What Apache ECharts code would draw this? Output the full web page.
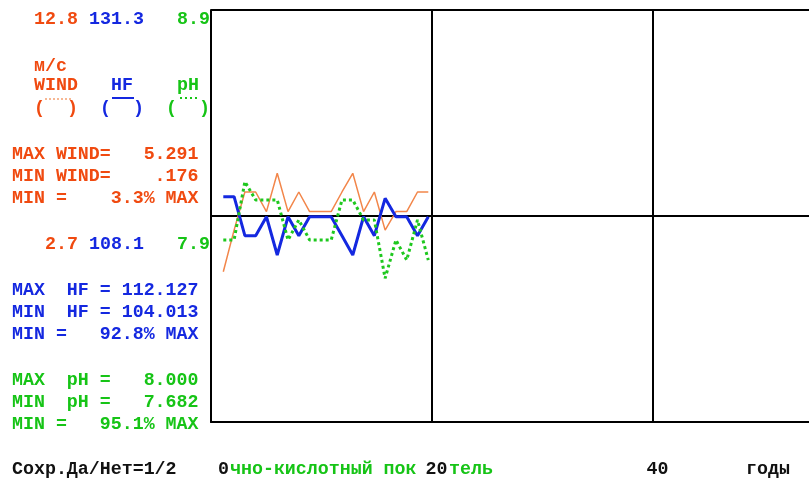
<!DOCTYPE html>
<html><head><meta charset="utf-8">
<script src="https://cdn.jsdelivr.net/npm/echarts/dist/echarts.min.js"></script>
<style>html,body{margin:0;padding:0;background:#fff}#c{width:809px;height:487px}</style>
</head><body><div id="c"></div>
<script>
// ---- data ----
const years = [1,2,3,4,5,6,7,8,9,10,11,12,13,14,15,16,17,18,19,20];
const wind = [0.176,2.34,4.32,4.32,3.30,5.291,3.30,4.32,3.30,3.30,3.30,4.32,5.291,3.30,4.32,2.34,3.30,3.30,4.32,4.32];
const hf = [112.127,112.127,106.70,106.70,109.34,104.013,109.34,106.70,109.34,109.34,109.34,106.70,104.013,109.34,106.70,111.9,109.34,109.34,106.70,109.34];
const ph = [7.808,7.808,8.000,7.940,7.940,7.940,7.808,7.874,7.808,7.808,7.808,7.940,7.940,7.874,7.874,7.682,7.808,7.742,7.874,7.742];
const xTicks = [0,20,40];
const topScale = ['12.8','131.3','8.9'];
const midScale = ['2.7','108.1','7.9'];
const windStats = ['5.291','.176','3.3'];
const hfStats = ['112.127','104.013','92.8'];
const phStats = ['8.000','7.682','95.1'];
const names = ['WIND','HF','pH'];
const unitWind = 'м/с';
const footer = 'Сохр.Да/Нет=1/2';
const titlePieces = ['чно-кислотный пок','тель'];
const xUnit = 'годы';

// ---- styles ----
const OR = '#f04a10', BL = '#1428e0', GR = '#16c416', BK = '#111';
const FAM = '"Liberation Mono", "DejaVu Sans Mono", monospace';
const FONT = 'bold 18.3px ' + FAM;
const CW = 11, X0 = 12;
function T(col, y, text, fill, xAbs){
  return {type:'text', x: xAbs!=null? xAbs : X0 + col*CW, y: y, z: 10,
    style:{text:text, fill:fill, font:FONT, verticalAlign:'middle', align:'left'}};
}
const g = [
  T(2,19,topScale[0],OR), T(7,19,topScale[1],BL), T(15,19,topScale[2],GR),
  T(2,66,unitWind,OR),
  T(2,85,names[0],OR), T(9,85,names[1],BL), T(15,85,names[2],GR),
  T(2,108,'(  )',OR), T(8,108,'(  )',BL), T(14,108,'(  )',GR),
  {type:'line', shape:{x1:45,y1:99,x2:71,y2:99}, style:{stroke:'#f5a070', lineWidth:1.5, lineDash:[2,2]}},
  {type:'line', shape:{x1:112,y1:98,x2:134,y2:98}, style:{stroke:BL, lineWidth:2}},
  {type:'line', shape:{x1:180,y1:98,x2:199,y2:98}, style:{stroke:GR, lineWidth:2, lineDash:[2,3]}},
  T(0,154,'MAX WIND=   '+windStats[0],OR),
  T(0,176,'MIN WIND=    '+windStats[1],OR),
  T(0,198,'MIN =    '+windStats[2]+'% MAX',OR),
  T(3,244,midScale[0],OR), T(7,244,midScale[1],BL), T(15,244,midScale[2],GR),
  T(0,290,'MAX  HF = '+hfStats[0],BL),
  T(0,312,'MIN  HF = '+hfStats[1],BL),
  T(0,334,'MIN =   '+hfStats[2]+'% MAX',BL),
  T(0,380,'MAX  pH =   '+phStats[0],GR),
  T(0,402,'MIN  pH =   '+phStats[1],GR),
  T(0,424,'MIN =   '+phStats[2]+'% MAX',GR),
  T(0,469,footer,BK),
  T(0,469,titlePieces[0],GR,230),
  T(0,469,titlePieces[1],GR,449),
  T(0,469,xUnit,BK,746)
];

const chart = echarts.init(document.getElementById('c'), null, {renderer:'canvas'});
const richLab = {fontSize:18.3, fontFamily:FAM, fontWeight:'bold', color:BK};
chart.setOption({
  animation:false,
  backgroundColor:'#fff',
  grid:{left:211, top:10, width:663, height:412, outerBoundsMode:'none', containLabel:false},
  xAxis:[
    {type:'value', min:0, max:60, interval:20, position:'bottom',
     axisLine:{show:true, lineStyle:{color:'#000', width:2}}, axisTick:{show:false},
     splitLine:{show:true, lineStyle:{color:'#000', width:2}},
     axisLabel:{show:true, margin:38, align:'center', color:BK, hideOverlap:false,
       formatter: v => xTicks.indexOf(v) < 0 ? '' : (v===0 ? '{a|'+v+'}' : '{b|'+v+'}'),
       rich:{a:Object.assign({padding:[0,0,0,25]}, richLab), b:Object.assign({padding:[0,0,0,9]}, richLab)}}},
    {type:'value', min:-0.14, max:61.31, show:false}
  ],
  yAxis:[
    {type:'value', min:0, max:2, interval:1,
     axisLine:{show:true, lineStyle:{color:'#000', width:2}}, axisTick:{show:false}, axisLabel:{show:false},
     splitLine:{show:true, lineStyle:{color:'#000', width:2}}},
    {type:'value', min:-7.635, max:13.78, show:false, splitLine:{show:false}},
    {type:'value', min:80.77, max:138.11, show:false, splitLine:{show:false}},
    {type:'value', min:7.209, max:8.565, show:false, splitLine:{show:false}}
  ],
  series:[
    {type:'line', name:names[0], xAxisIndex:1, yAxisIndex:1, symbol:'none', z:3,
     data: years.map((y,i)=>[y,wind[i]]), lineStyle:{color:'#f2864a', width:1.5}},
    {type:'line', name:names[1], xAxisIndex:1, yAxisIndex:2, symbol:'none', z:4,
     data: years.map((y,i)=>[y,hf[i]]), lineStyle:{color:BL, width:3}},
    {type:'line', name:names[2], xAxisIndex:1, yAxisIndex:3, symbol:'none', z:5,
     data: years.map((y,i)=>[y,ph[i]]), lineStyle:{color:'#1ec81e', width:3, type:[3,3], cap:'butt'}}
  ],
  graphic: g
});
</script></body></html>
